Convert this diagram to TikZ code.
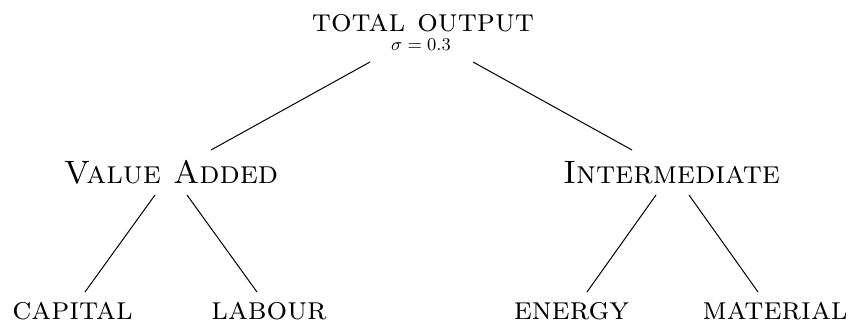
\documentclass[tikz,border=0pt]{standalone}
\begin{document}
\begin{tikzpicture}[x=0.5pt,y=-0.5pt,
  lbl/.style={anchor=base,inner sep=0pt,font=\fontsize{16.2}{19}\selectfont\scshape},
  sig/.style={anchor=base,inner sep=0pt,font=\fontsize{9}{11}\selectfont},
  edge/.style={line width=0.5pt}]
\useasboundingbox (0,0) rectangle (851,325);
\node[lbl] (top) at (423,32) {total output};
\node[sig] (sigma) at (421,51) {$\sigma=0.3$};
\node[lbl] (va) at (171,183.5) {Value Added};
\node[lbl] (int) at (671.5,183.5) {Intermediate};
\node[lbl] (cap) at (72.5,320) {capital};
\node[lbl] (lab) at (269,320) {labour};
\node[lbl] (ene) at (571.5,320) {energy};
\node[lbl] (mat) at (775,320) {material};
\draw[edge] ([shift={(-53,30)}]top.base) -- ([shift={(40,-33.5)}]va.base);
\draw[edge] ([shift={(50,30)}]top.base) -- ([shift={(-39.5,-33.5)}]int.base);
\draw[edge] ([shift={(-16,11.5)}]va.base) -- ([shift={(12.5,-28)}]cap.base);
\draw[edge] ([shift={(16,11.5)}]va.base) -- ([shift={(-12,-28)}]lab.base);
\draw[edge] ([shift={(-15.5,11.5)}]int.base) -- ([shift={(15.5,-28)}]ene.base);
\draw[edge] ([shift={(17.5,11.5)}]int.base) -- ([shift={(-17,-28)}]mat.base);
\end{tikzpicture}
\end{document}
